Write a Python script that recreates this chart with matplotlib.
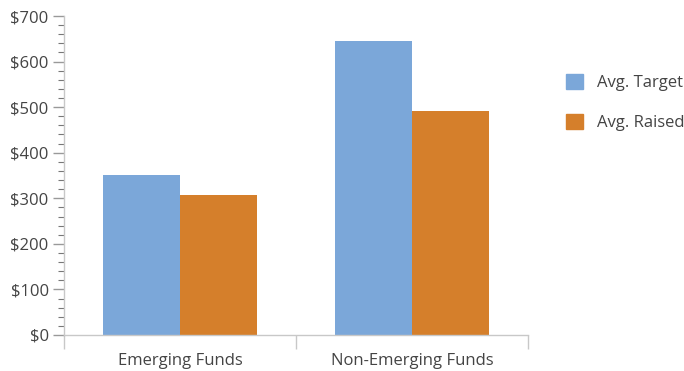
import matplotlib.pyplot as plt
import numpy as np
from matplotlib.patches import Patch
from matplotlib.ticker import FuncFormatter, MultipleLocator

categories = ['Emerging Funds', 'Non-Emerging Funds']
avg_target = [351, 645]
avg_raised = [307, 491]

blue = '#7ba7d9'
orange = '#d57f2b'
axis_gray = '#c8c8c8'
text_gray = '#444444'

plt.rcParams['font.family'] = ['Open Sans', 'DejaVu Sans']
fs = 12

fig = plt.figure(figsize=(6.84, 3.71), dpi=100)
ax = fig.add_axes([64 / 684, 1 - 335 / 371, (528 - 64) / 684, (335 - 16) / 371])

x = np.arange(len(categories))
w = 0.333
ax.bar(x - w / 2, avg_target, width=w, color=blue)
ax.bar(x + w / 2, avg_raised, width=w, color=orange)

ax.set_xlim(-0.5, 1.5)
ax.set_ylim(0, 700)

ax.yaxis.set_major_locator(MultipleLocator(100))
ax.yaxis.set_minor_locator(MultipleLocator(20))
ax.yaxis.set_major_formatter(FuncFormatter(lambda v, p: f'${v:.0f}'))

# category labels sit between boundary ticks
ax.set_xticks([-0.5, 0.5, 1.5])
ax.set_xticklabels([])
ax.set_xticks(x, minor=True)
ax.set_xticklabels(categories, minor=True)
ax.tick_params(axis='x', which='major', length=10, color=axis_gray, width=1)
ax.tick_params(axis='x', which='minor', length=0, pad=13, labelsize=fs, labelcolor=text_gray)

ax.tick_params(axis='y', which='major', length=8, color='#999999', width=1,
               labelsize=fs, labelcolor=text_gray, pad=3)
ax.tick_params(axis='y', which='minor', length=4, color='#777777', width=0.8)

for side in ['top', 'right']:
    ax.spines[side].set_visible(False)
for side in ['left', 'bottom']:
    ax.spines[side].set_color(axis_gray)
    ax.spines[side].set_linewidth(1)

handles = [Patch(color=blue, label='Avg. Target'), Patch(color=orange, label='Avg. Raised')]
fig.legend(handles=handles, loc='upper left', bbox_to_anchor=(566 / 684, 1 - 74 / 371),
           frameon=False, borderpad=0, borderaxespad=0, fontsize=fs,
           handlelength=1.0, handleheight=1.0, handletextpad=0.85, labelspacing=1.38,
           labelcolor=text_gray)

fig.savefig('out.png', dpi=100)
